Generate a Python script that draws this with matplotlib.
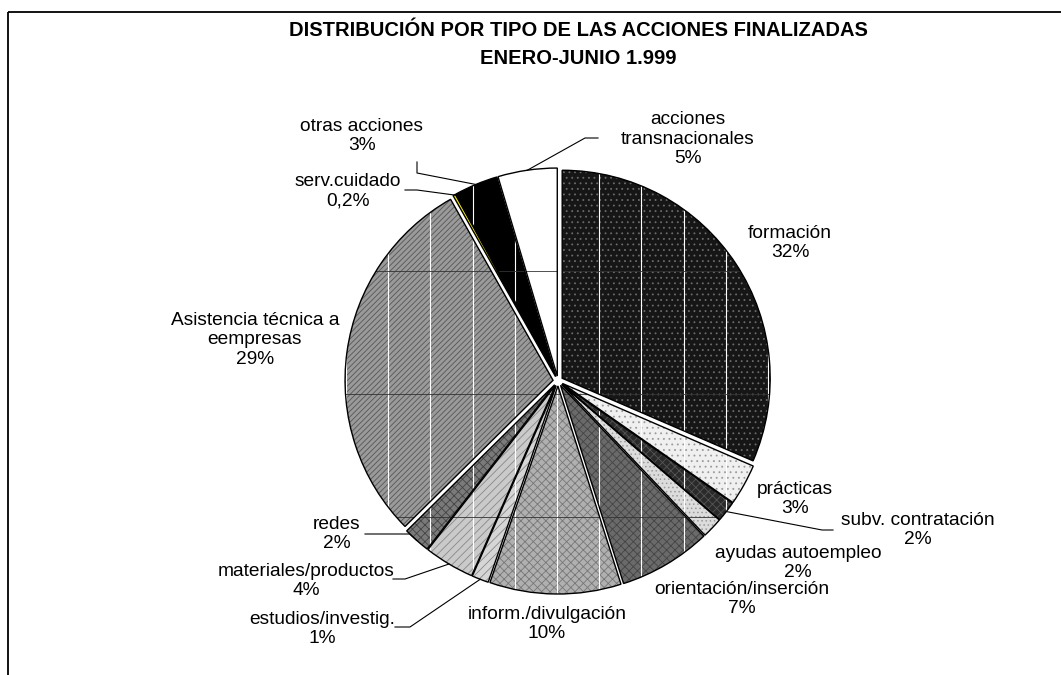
import numpy as np
import matplotlib.pyplot as plt
from matplotlib.patches import Rectangle

plt.rcParams['font.family'] = ['Liberation Sans', 'DejaVu Sans']
plt.rcParams['hatch.linewidth'] = 0.6

# data (clockwise from 12 o'clock)
categorias = ['formación', 'prácticas', 'subv. contratación', 'ayudas autoempleo',
              'orientación/inserción', 'inform./divulgación', 'estudios/investig.',
              'materiales/productos', 'redes', 'Asistencia técnica a\neempresas',
              'serv.cuidado', 'otras acciones', 'acciones\ntransnacionales']
valores = [31.5, 3.2, 1.6, 1.6, 7.2, 10.2, 1.3, 3.9, 2.1, 29.2, 0.2, 3.4, 4.6]
etiquetas_pct = ['32%', '3%', '2%', '2%', '7%', '10%', '1%', '4%', '2%', '29%',
                 '0,2%', '3%', '5%']

colores = ['#161616', '#f0f0f0', '#2a2a2a', '#dcdcdc', '#6a6a6a', '#b0b0b0',
           '#d6d6d6', '#cacaca', '#7a7a7a', '#9a9a9a', '#f2e600', '#000000', '#ffffff']
# pattern overlay: (hatch, colour)
tramas = [('...', '#6a6a6a'), ('...', '#9a9a9a'), ('xxxx', '#555555'), ('....', '#9a9a9a'),
          ('xxxx', '#444444'), ('xxxx', '#777777'), ('////', '#888888'), ('////', '#888888'),
          ('xxxx', '#444444'), ('//////', '#555555'), (None, None), (None, None), (None, None)]

# label placement (pixel coords of text centre)
pos_etiquetas = [(790, 243), (795, 499), (918, 530), (798, 563), (742, 599),
                 (547, 624), (322, 629), (306, 581), (337, 534), (255, 340),
                 (348, 191), (362, 136), (688, 139)]
# leader lines: slice index -> (elbow, end)
lineas = {2: [(822, 530), (833, 530)],
          6: [(410, 627), (395, 627)],
          7: [(405, 579), (393, 579)],
          8: [(410, 534), (365, 534)],
          10: [(417, 190), (405, 190)],
          11: [(417, 173), (417, 162)],
          12: [(585, 138), (598, 138)]}

centro = (558, 381)
radio = 208
separa = [5] * len(valores)   # pie explode is in data units (pixels here)
n = len(valores)

fig = plt.figure(figsize=(10.61, 6.75), dpi=100)
ax = fig.add_axes([0, 0, 1, 1])

comun = dict(startangle=270, counterclock=True, center=centro, radius=radio, explode=separa)

# fills
wedges, _ = ax.pie(valores, colors=colores, wedgeprops=dict(linewidth=0), **comun)
for w in wedges:
    w.set_zorder(1)
# texture layer
capa, _ = ax.pie(valores, colors=['none'] * n, wedgeprops=dict(linewidth=0), **comun)
for c, (h, col) in zip(capa, tramas):
    if h:
        c.set_hatch(h)
        c.set_edgecolor(col)
    c.set_zorder(1.5)
# outlines
bordes, _ = ax.pie(valores, colors=['none'] * n,
                   wedgeprops=dict(edgecolor='black', linewidth=1.0), **comun)
for b in bordes:
    b.set_zorder(2.5)

ax.set_xlim(0, 1061)
ax.set_ylim(675, 0)
ax.set_aspect('equal')
ax.axis('off')

# faint grid showing through the slices
for w in wedges:
    for x in np.arange(346, 800, 42.2):
        ax.plot([x, x], [150, 610], color='white', lw=0.8, clip_path=w, zorder=2)
    for y in [271, 394, 517]:
        ax.plot([330, 790], [y, y], color='#333333', lw=0.6, clip_path=w, zorder=2)

for i, (w, nombre, pct, (tx, ty)) in enumerate(zip(wedges, categorias, etiquetas_pct, pos_etiquetas)):
    ax.text(tx, ty, nombre + '\n' + pct, ha='center', va='center', fontsize=13.8,
            linespacing=1.22)
    if i in lineas:
        ang = np.deg2rad((w.theta1 + w.theta2) / 2)
        cx, cy = w.center
        p0 = (cx + w.r * np.cos(ang), cy + w.r * np.sin(ang))
        (ex, ey), (fx, fy) = lineas[i]
        ax.plot([p0[0], ex, fx], [p0[1], ey, fy], color='black', lw=0.8, zorder=3)

ax.text(578, 31, 'DISTRIBUCIÓN POR TIPO DE LAS ACCIONES FINALIZADAS',
        ha='center', va='center', fontsize=14.5, fontweight='bold')
ax.text(578, 59, 'ENERO-JUNIO 1.999', ha='center', va='center', fontsize=14.5,
        fontweight='bold')

# chart frame
ax.add_patch(Rectangle((8, 12), 1100, 700, fill=False, edgecolor='black',
                       linewidth=1.3, clip_on=False))

fig.savefig('out.png', dpi=100)
